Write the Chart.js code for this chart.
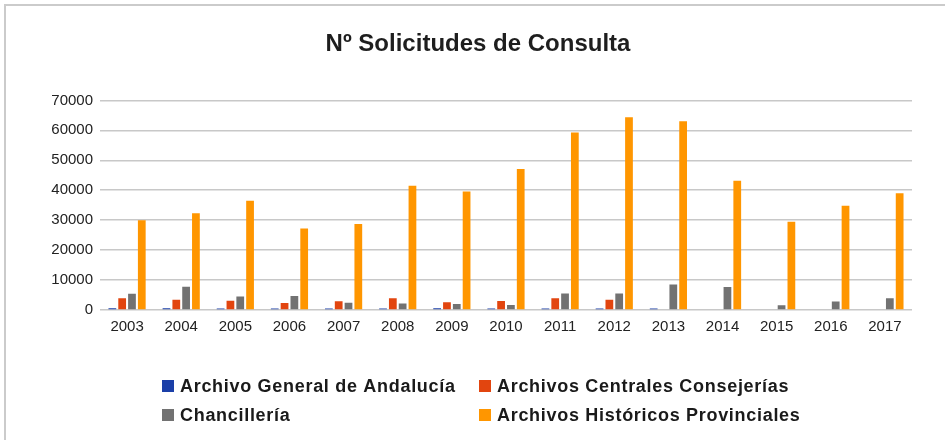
<!DOCTYPE html>
<html>
<head>
<meta charset="utf-8">
<script src="https://cdn.jsdelivr.net/npm/chart.js@4/dist/chart.umd.min.js"></script>
<style>
  html, body { margin: 0; padding: 0; background: #fff; }
  #wrap { position: relative; width: 945px; height: 440px; }
  #frame { position: absolute; left: 4px; top: 4px; right: -10px; bottom: -10px;
           border-top: 2px solid #cbcbcb; border-left: 2px solid #cbcbcb; pointer-events: none; }
</style>
</head>
<body>
<div id="wrap">
  <canvas id="chart" width="945" height="440"></canvas>
  <div id="frame"></div>
</div>
<script>
const years = ['2003', '2004', '2005', '2006', '2007', '2008', '2009', '2010',
  '2011', '2012', '2013', '2014', '2015', '2016', '2017'];

const general = [550, 550, 500, 500, 500, 500, 550, 500, 500, 500, 500, 250, 250, 250, 250];
const centrales = [3900, 3400, 3100, 2300, 2900, 3900, 2600, 3000, 3900, 3400, 0, 0, 0, 0, 0];
const chancilleria = [5400, 7800, 4500, 4700, 2400, 2200, 2000, 1700, 5500, 5500, 8500, 7700, 1600, 2800, 3900];
const historicos = [30000, 32300, 36500, 27200, 28700, 41500, 39600, 47100, 59300, 64400,
  63000, 43200, 29500, 34800, 39000];

const yTicks = [0, 10000, 20000, 30000, 40000, 50000, 60000, 70000];

// legend in two aligned columns, like the original
const legendPlugin = {
  id: 'twoColLegend',
  afterDraw(chart) {
    const ctx = chart.ctx;
    const cols = [162, 479];
    const rows = [386, 415];
    ctx.save();
    ctx.font = 'bold 18px "Liberation Sans", Arial, sans-serif';
    if ('letterSpacing' in ctx) ctx.letterSpacing = '0.7px';
    ctx.textBaseline = 'middle';
    chart.data.datasets.forEach((ds, i) => {
      const x = cols[i % 2];
      const y = rows[Math.floor(i / 2)];
      ctx.fillStyle = ds.backgroundColor;
      ctx.fillRect(x, y - 6, 12, 12);
      ctx.fillStyle = '#1a1a1a';
      ctx.fillText(ds.label, x + 18, y + 1);
    });
    ctx.restore();
  }
};

const ctx = document.getElementById('chart').getContext('2d');
const chart = new Chart(ctx, {
  type: 'bar',
  data: {
    labels: years,
    datasets: [
      { label: 'Archivo General de Andalucía', data: general, backgroundColor: '#1b3fa8' },
      { label: 'Archivos Centrales Consejerías', data: centrales, backgroundColor: '#e2450f' },
      { label: 'Chancillería', data: chancilleria, backgroundColor: '#727272' },
      { label: 'Archivos Históricos Provinciales', data: historicos, backgroundColor: '#ff9600' }
    ]
  },
  options: {
    responsive: false,
    animation: false,
    categoryPercentage: 0.725,
    barPercentage: 0.79,
    layout: { padding: { left: 44, right: 33, top: 0, bottom: 96 } },
    plugins: {
      legend: { display: false },
      tooltip: { enabled: false },
      title: {
        display: true,
        text: 'Nº Solicitudes de Consulta',
        color: '#1e1e1e',
        font: { family: '"Liberation Sans", Arial, sans-serif', size: 24, weight: 'bold' },
        padding: { top: 30, bottom: 41.6 }
      }
    },
    scales: {
      x: {
        grid: { display: false, drawTicks: false },
        border: { display: false },
        ticks: {
          color: '#222',
          padding: 8,
          font: { family: '"Liberation Sans", Arial, sans-serif', size: 15 }
        }
      },
      y: {
        min: 0,
        max: yTicks[yTicks.length - 1],
        afterFit(scale) { scale.width = 56; },
        afterBuildTicks(scale) { scale.ticks = yTicks.map(v => ({ value: v })); },
        grid: { color: '#c8c8c8', lineWidth: 1.5, drawTicks: false },
        border: { display: false },
        ticks: {
          color: '#222',
          padding: 7,
          font: { family: '"Liberation Sans", Arial, sans-serif', size: 15 },
          callback: v => String(v)
        }
      }
    }
  },
  plugins: [legendPlugin]
});
</script>
</body>
</html>
